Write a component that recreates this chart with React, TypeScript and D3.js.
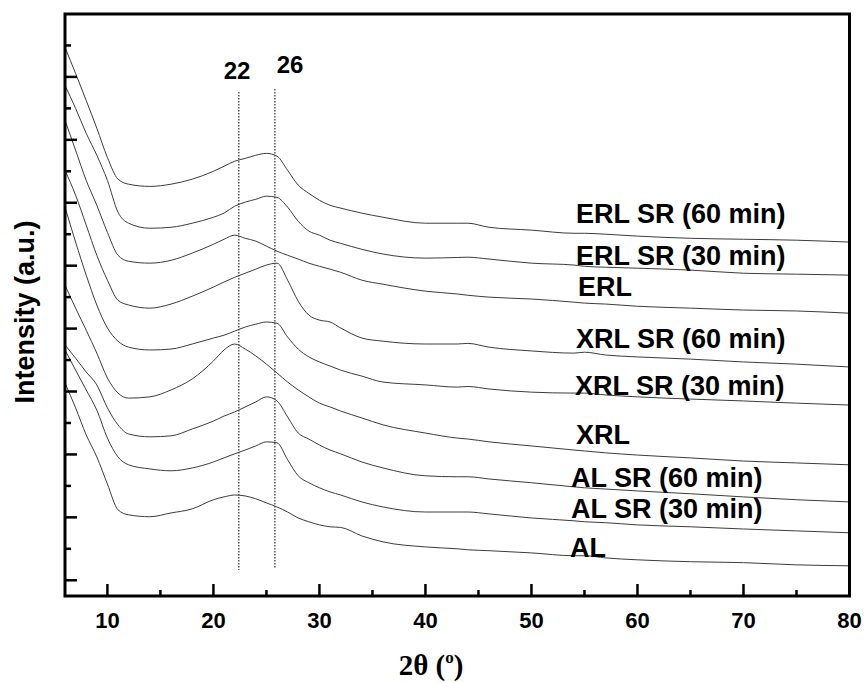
import React from 'react';
import * as d3 from 'd3';

// 2θ sampling points (degrees), shared by every pattern
const twoTheta = [6, 7, 8, 9, 10, 11, 12, 14, 16, 18, 20, 21, 22, 23, 24, 25, 26, 27, 28, 29, 30, 31, 32, 34, 36, 40, 43, 44, 46, 50, 54, 55, 57, 60, 65, 70, 75, 80];

// intensities (a.u., stacked/offset as in the figure), top to bottom
const erlSr60 = [1694, 1611, 1525, 1437, 1344, 1275, 1259, 1252, 1259, 1275, 1300, 1316, 1332, 1341, 1351, 1357, 1348, 1303, 1256, 1230, 1208, 1192, 1183, 1167, 1154, 1135, 1135, 1135, 1122, 1113, 1103, 1103, 1100, 1094, 1087, 1084, 1081, 1075];
const erlSr30 = [1573, 1500, 1421, 1351, 1271, 1170, 1135, 1119, 1122, 1135, 1154, 1167, 1189, 1202, 1211, 1221, 1217, 1186, 1141, 1110, 1097, 1081, 1071, 1052, 1037, 1024, 1026, 1027, 1021, 1008, 1002, 998, 995, 992, 986, 976, 973, 970];
const erl = [1462, 1367, 1271, 1192, 1106, 1033, 1014, 1008, 1017, 1040, 1068, 1084, 1097, 1087, 1078, 1062, 1046, 1033, 1021, 1008, 998, 989, 979, 954, 941, 919, 910, 906, 900, 894, 884, 881, 878, 871, 865, 859, 856, 849];
const xrlSr60 = [1303, 1224, 1129, 1033, 954, 890, 875, 865, 878, 903, 932, 948, 963, 976, 989, 1002, 1008, 954, 887, 843, 827, 821, 802, 770, 760, 751, 751, 753, 741, 729, 722, 725, 716, 710, 703, 694, 687, 678];
const xrlSr30 = [1186, 1075, 970, 875, 802, 760, 741, 732, 735, 751, 770, 779, 792, 805, 814, 821, 817, 773, 735, 710, 694, 681, 668, 649, 630, 621, 614, 616, 608, 598, 595, 595, 589, 583, 576, 570, 563, 557];
const xrl = [938, 865, 795, 722, 643, 595, 579, 583, 605, 640, 697, 732, 751, 735, 713, 687, 659, 630, 605, 583, 563, 551, 538, 516, 494, 468, 452, 449, 440, 427, 414, 411, 405, 398, 389, 379, 373, 367];
const alSr60 = [748, 706, 662, 621, 548, 494, 465, 456, 459, 481, 506, 522, 535, 551, 567, 583, 570, 519, 468, 449, 430, 414, 402, 376, 357, 332, 329, 329, 322, 310, 297, 294, 290, 284, 275, 265, 256, 249];
const alSr30 = [732, 668, 605, 541, 452, 392, 367, 354, 348, 357, 376, 389, 402, 414, 427, 440, 437, 383, 332, 310, 294, 281, 271, 249, 233, 217, 217, 217, 211, 198, 189, 186, 183, 176, 170, 163, 157, 151];
const al = [627, 548, 462, 392, 306, 224, 208, 202, 214, 227, 256, 265, 271, 268, 259, 246, 233, 217, 198, 186, 176, 170, 168, 141, 122, 106, 100, 97, 94, 87, 78, 78, 71, 65, 59, 56, 49, 46];

const series = [erlSr60, erlSr30, erl, xrlSr60, xrlSr30, xrl, alSr60, alSr30, al];
const sampleNames = ['ERL SR (60 min)', 'ERL SR (30 min)', 'ERL', 'XRL SR (60 min)', 'XRL SR (30 min)', 'XRL', 'AL SR (60 min)', 'AL SR (30 min)', 'AL'];

const xTicks = [10, 20, 30, 40, 50, 60, 70, 80];
const xMinorTicks = [15, 25, 35, 45, 55, 65, 75];
const yTicks = d3.range(0, 1800, 100);
const refAngles = [22.4, 25.8];
const refLabels = ['22', '26'];

const W = 865;
const H = 683;
const sans = '"Liberation Sans", Arial, sans-serif';

export default function App() {
  const left = 65, right = 849.5, top = 14, bottom = 596;
  const x = d3.scaleLinear().domain([6, 80]).range([left, right]);
  const y = d3.scaleLinear().domain([-50, 1800]).range([bottom, top]);

  const line = d3.line<number>()
    .x((_, i) => x(twoTheta[i]))
    .y(d => y(d))
    .curve(d3.curveMonotoneX);

  // label placement (pixels) for the sample names on the right
  const labelPos: [number, number][] = [
    [576, 223], [576, 265], [578, 296], [576, 348], [575, 395],
    [576, 444], [571, 487], [571, 518], [570, 557],
  ];
  const refTop = [92, 89];
  const refBottom = [570, 568];
  const refLabelPos: [number, number][] = [[237, 79], [290, 73]];

  return (
    <svg width={W} height={H} style={{ position: 'absolute', left: 0, top: 0, background: '#fff' }}>
      {/* dotted reference lines */}
      {refAngles.map((a, i) => (
        <g key={'ref' + i}>
          <line x1={x(a)} x2={x(a)} y1={refTop[i]} y2={refBottom[i]}
            stroke="#000" strokeWidth={1} strokeDasharray="1.5,1.5" />
          <text x={refLabelPos[i][0]} y={refLabelPos[i][1]} textAnchor="middle"
            fontFamily={sans} fontWeight="bold" fontSize={24}>{refLabels[i]}</text>
        </g>
      ))}

      {/* patterns */}
      {series.map((s, i) => (
        <path key={'s' + i} d={line(s) || ''} fill="none" stroke="#3c3c3c" strokeWidth={1} />
      ))}

      {/* sample names */}
      {sampleNames.map((n, i) => (
        <text key={'n' + i} x={labelPos[i][0]} y={labelPos[i][1]}
          fontFamily={sans} fontWeight="bold" fontSize={27}>{n}</text>
      ))}

      {/* ticks (inward) */}
      {xTicks.map(t => (
        <line key={'xt' + t} x1={x(t)} x2={x(t)} y1={bottom} y2={bottom - 12} stroke="#000" strokeWidth={2.5} />
      ))}
      {xMinorTicks.map(t => (
        <line key={'xm' + t} x1={x(t)} x2={x(t)} y1={bottom} y2={bottom - 6} stroke="#000" strokeWidth={2.5} />
      ))}
      {yTicks.map(t => (
        <line key={'yt' + t} x1={left} x2={left + (t % 200 === 0 ? 12 : 6)} y1={y(t)} y2={y(t)} stroke="#000" strokeWidth={2.5} />
      ))}

      {/* frame */}
      <rect x={left} y={top} width={right - left} height={bottom - top} fill="none" stroke="#000" strokeWidth={3} />

      {/* x tick labels */}
      {xTicks.map(t => (
        <text key={'xl' + t} x={x(t)} y={628} textAnchor="middle"
          fontFamily={sans} fontWeight="bold" fontSize={22}>{t}</text>
      ))}

      {/* axis titles */}
      <text x={431} y={675} textAnchor="middle" fontFamily='"Liberation Serif", "Times New Roman", serif'
        fontWeight="bold" fontSize={29}>
        2θ (<tspan fontSize={17} dy={-12}>o</tspan><tspan dy={12}>)</tspan>
      </text>
      <text transform="translate(34,312) rotate(-90)" textAnchor="middle"
        fontFamily={sans} fontWeight="bold" fontSize={27}>Intensity (a.u.)</text>
    </svg>
  );
}
